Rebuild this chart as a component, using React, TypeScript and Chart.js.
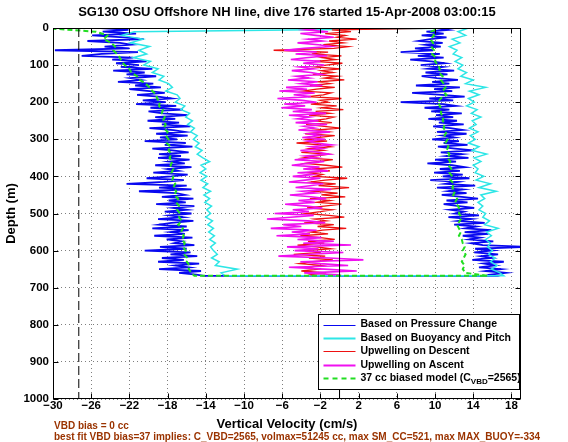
import React, { useEffect, useRef } from "react";
import { Chart, registerables } from "chart.js";

Chart.register(...registerables);

const FONT = '"Liberation Sans", Arial, Helvetica, sans-serif';

const chartTitle = "SG130 OSU Offshore NH line, dive 176 started 15-Apr-2008 03:00:15";
const xAxisTitle = "Vertical Velocity (cm/s)";
const yAxisTitle = "Depth (m)";
const noteLine1 = "VBD bias = 0 cc";
const noteLine2 =
  "best fit VBD bias=37 implies: C_VBD=2565, volmax=51245 cc, max SM_CC=521, max MAX_BUOY=-334";

const xTicks = [-30, -26, -22, -18, -14, -10, -6, -2, 2, 6, 10, 14, 18];
const yTicks = [0, 100, 200, 300, 400, 500, 600, 700, 800, 900, 1000];
const xRange = [-30, 19];
const yRange = [0, 1000];
const biasLineX = -27.3;
const zeroLineX = 0;

// depth grids (m)
const depth5 = [
  0, 5, 10, 15, 20, 25, 30, 35, 40, 45,
  50, 55, 60, 65, 70, 75, 80, 85, 90, 95,
  100, 105, 110, 115, 120, 125, 130, 135, 140, 145,
  150, 155, 160, 165, 170, 175, 180, 185, 190, 195,
  200, 205, 210, 215, 220, 225, 230, 235, 240, 245,
  250, 255, 260, 265, 270, 275, 280, 285, 290, 295,
  300, 305, 310, 315, 320, 325, 330, 335, 340, 345,
  350, 355, 360, 365, 370, 375, 380, 385, 390, 395,
  400, 405, 410, 415, 420, 425, 430, 435, 440, 445,
  450, 455, 460, 465, 470, 475, 480, 485, 490, 495,
  500, 505, 510, 515, 520, 525, 530, 535, 540, 545,
  550, 555, 560, 565, 570, 575, 580, 585, 590, 595,
  600, 605, 610, 615, 620, 625, 630, 635, 640, 645,
  650, 655, 660, 665, 668,
];
const depth10 = [
  0, 10, 20, 30, 40, 50, 60, 70, 80, 90,
  100, 110, 120, 130, 140, 150, 160, 170, 180, 190,
  200, 210, 220, 230, 240, 250, 260, 270, 280, 290,
  300, 310, 320, 330, 340, 350, 360, 370, 380, 390,
  400, 410, 420, 430, 440, 450, 460, 470, 480, 490,
  500, 510, 520, 530, 540, 550, 560, 570, 580, 590,
  600, 610, 620, 630, 640, 650, 660, 668,
];

// Based on Pressure Change (cm/s) on depth5
const pressureDescent = [
  -25.0, -22.1, -24.8, -21.3, -25.9, -22.6, -20.5, -26.4, -23.0, -21.8,
  -24.6, -22.0, -29.8, -21.1, -24.9, -27.0, -21.6, -23.8, -20.2, -23.4,
  -21.0, -22.9, -19.6, -23.7, -20.4, -22.3, -19.2, -21.9, -20.8, -23.2,
  -19.5, -21.4, -18.7, -22.0, -19.9, -18.3, -21.2, -19.0, -17.6, -20.6,
  -18.2, -21.3, -17.1, -19.8, -16.4, -20.0, -18.5, -15.9, -19.3, -17.2,
  -20.1, -16.8, -18.6, -15.6, -19.9, -17.4, -16.2, -19.2, -15.9, -18.8,
  -17.0, -20.4, -16.1, -18.3, -15.4, -19.6, -17.5, -15.8, -18.9, -16.6,
  -19.0, -15.7, -17.8, -16.2, -19.3, -15.5, -18.0, -16.9, -19.5, -15.9,
  -17.6, -20.2, -16.3, -18.4, -22.3, -16.0, -18.9, -15.5, -21.0, -17.1,
  -16.2, -18.6, -15.3, -17.9, -16.1, -19.2, -15.2, -17.4, -16.0, -18.3,
  -15.5, -17.8, -16.4, -19.0, -15.3, -17.6, -18.9, -16.0, -19.6, -15.8,
  -17.7, -16.2, -19.4, -15.4, -18.1, -16.5, -17.3, -15.2, -18.8, -16.0,
  -20.4, -15.6, -17.7, -14.9, -18.6, -16.3, -19.0, -14.7, -17.2, -15.8,
  -18.9, -14.5, -16.8, -15.0, -14.2,
];
const pressureAscent = [
  10.2, 11.4, 9.1, 10.9, 8.6, 11.2, 9.5, 8.3, 10.8, 9.0,
  10.6, 7.9, 9.8, 6.4, 10.5, 8.2, 10.9, 7.4, 9.6, 11.0,
  8.5, 10.8, 9.3, 12.0, 9.0, 11.3, 8.6, 10.2, 12.4, 9.7,
  11.5, 8.0, 12.6, 9.9, 11.8, 7.6, 10.7, 13.1, 9.4, 11.9,
  6.4, 10.9, 12.2, 8.9, 11.5, 9.6, 12.8, 10.1, 11.9, 9.3,
  12.3, 10.4, 13.0, 9.8, 11.6, 12.9, 10.2, 13.3, 10.8, 12.0,
  9.7, 12.5, 10.9, 13.4, 10.3, 12.1, 14.0, 10.6, 12.8, 11.2,
  13.5, 10.0, 12.2, 9.2, 11.8, 13.1, 10.5, 12.6, 9.9, 12.9,
  10.8, 13.6, 9.5, 12.4, 11.1, 14.2, 10.2, 12.9, 11.4, 13.3,
  10.7, 12.8, 14.5, 11.2, 13.4, 10.9, 12.5, 14.1, 11.6, 13.0,
  12.1, 14.6, 11.4, 13.8, 12.4, 15.2, 12.0, 14.3, 13.2, 15.9,
  13.1, 15.6, 12.9, 14.7, 13.6, 16.1, 13.8, 15.0, 19.6, 14.2,
  16.0, 14.1, 16.6, 14.8, 15.9, 13.9, 17.2, 15.1, 16.3, 14.6,
  16.9, 15.3, 17.4, 15.8, 16.2,
];

// Based on Buoyancy and Pitch (cm/s) on depth10
const buoyancyDescent = [
  13.0, -21.5, -22.8, -20.6, -21.9, -19.9, -21.0, -20.2, -21.6, -19.8,
  -20.5, -19.0, -19.6, -18.4, -18.9, -17.9, -17.5, -18.2, -17.0, -16.7,
  -17.2, -16.2, -16.6, -15.7, -16.1, -15.4, -15.9, -15.2, -15.6, -14.9,
  -15.3, -14.7, -15.1, -14.4, -14.9, -14.3, -13.6, -14.5, -14.0, -14.6,
  -13.9, -14.5, -13.8, -14.3, -13.5, -14.2, -13.6, -14.1, -13.4, -13.9,
  -13.5, -14.0, -13.3, -13.8, -13.2, -13.7, -13.1, -13.6, -13.0, -13.5,
  -13.2, -12.8, -13.4, -12.6, -13.0, -10.7, -12.4, -12.0,
];
const buoyancyAscent = [
  13.5, 12.4, 13.2, 11.8, 12.6, 11.5, 12.3, 11.9, 12.8, 12.1,
  12.9, 12.4, 13.3, 12.7, 14.0, 13.2, 15.3, 13.6, 14.6, 13.5,
  14.1, 13.3, 14.4, 13.8, 14.8, 13.9, 14.3, 13.6, 14.5, 13.7,
  14.2, 13.5, 14.6, 13.9, 15.4, 14.1, 14.8, 14.0, 14.5, 14.2,
  15.1, 14.3, 15.8, 14.6, 16.4, 14.8, 15.2, 14.5, 15.0, 14.6,
  15.3, 15.0, 15.7, 15.2, 16.6, 15.4, 15.9, 15.3, 15.8, 15.5,
  16.0, 15.6, 16.3, 15.8, 16.5, 15.9, 16.8, 17.2,
];

// 37 cc biased model (cm/s) on depth10
const modelDescent = [
  -31.0, -25.5, -24.3, -24.7, -23.9, -23.5, -23.7, -23.3, -23.0, -22.8,
  -22.5, -22.0, -21.8, -21.2, -20.9, -20.3, -19.9, -19.6, -19.2, -19.1,
  -18.8, -18.9, -18.5, -18.6, -18.3, -18.5, -18.2, -18.4, -18.0, -18.2,
  -17.9, -18.1, -17.7, -17.9, -17.6, -17.8, -17.5, -17.7, -17.4, -17.6,
  -17.4, -17.5, -17.2, -17.4, -17.1, -17.3, -16.9, -17.1, -16.8, -17.0,
  -16.7, -16.8, -16.5, -16.9, -16.4, -16.6, -16.3, -16.5, -16.2, -16.4,
  -16.1, -16.3, -15.9, -16.0, -15.7, -15.8, -15.5, -15.2,
];
const modelAscent = [
  10.4, 9.6, 9.9, 9.5, 9.8, 9.6, 9.9, 9.7, 10.1, 10.0,
  10.3, 10.5, 10.4, 10.8, 10.6, 10.9, 11.1, 10.8, 11.2, 10.6,
  10.3, 10.5, 10.7, 10.6, 10.9, 10.8, 11.0, 10.9, 11.2, 11.0,
  11.3, 11.1, 11.4, 11.2, 11.5, 11.3, 11.6, 11.4, 11.7, 11.5,
  11.8, 11.6, 12.0, 11.8, 12.1, 11.9, 12.3, 12.1, 12.4, 12.6,
  12.5, 12.8, 12.6, 12.3, 12.5, 12.7, 12.5, 12.8, 12.9, 13.1,
  12.9, 13.2, 13.0, 12.8, 13.1, 12.9, 13.2, 15.5,
];

// Upwelling (cm/s) on depth5
const upwellingDescent = [
  11.0, -0.8, 1.2, -1.5, 0.6, -0.3, 1.8, -1.1, 0.4, -1.7,
  0.9, -0.6, -6.9, -1.2, -2.9, 0.2, -1.8, -0.4, -2.6, 0.3,
  -1.4, -2.5, 0.1, -1.9, -0.7, -2.8, -0.2, -1.6, 0.5, -2.2,
  -1.0, -3.1, -0.5, -2.4, -3.8, -0.9, -1.7, -3.3, 0.2, -2.0,
  -1.2, -3.0, -0.3, -1.9, 0.4, -2.5, -1.0, -3.2, -0.6, -1.4,
  -2.8, -0.8, -3.5, -1.6, 0.1, -2.4, -1.1, -3.6, -0.5, -2.1,
  -3.4, -1.3, -4.5, -2.0, -0.9, -3.1, -1.7, -4.0, -1.2, -2.6,
  -3.8, -0.7, -2.3, -3.6, -1.4, 0.3, -2.9, -1.0, -3.3, -1.8,
  -2.6, 0.8, -1.5, -3.0, -0.4, -2.2, 1.0, -1.3, -2.7, -0.2,
  -1.9, 0.6, -3.1, -1.0, -2.4, 0.2, -1.6, -3.4, -0.8, -2.0,
  -3.5, -1.1, 0.5, -2.6, -1.4, -3.7, -0.6, -2.3, 0.7, -1.8,
  -3.0, -1.2, -4.1, -2.0, -0.5, -3.3, -1.6, -4.4, -2.4, -0.9,
  -3.6, -2.0, -4.8, -1.5, -3.2, -0.7, -2.8, -4.2, -1.9, -3.5,
  -2.2, -4.0, -1.4, -3.0, -2.5,
];
const upwellingAscent = [
  -2.0, -3.6, -1.2, -4.1, -2.5, -0.6, -3.3, -1.8, -4.4, -2.2,
  -0.9, -3.7, -5.8, -2.4, -4.6, -1.3, -3.5, -5.1, -2.0, -3.8,
  -1.6, -4.2, -2.7, -5.0, -3.0, -1.9, -4.5, -3.2, -5.4, -2.3,
  -4.0, -1.8, -5.6, -3.4, -6.3, -2.6, -4.8, -3.0, -6.5, -3.9,
  -2.4, -5.8, -3.6, -6.1, -2.9, -4.9, -1.4, -5.3, -3.1, -4.4,
  -2.2, -4.6, -1.3, -3.7, -2.6, -4.3, -1.0, -3.2, -2.0, -3.9,
  -1.5, -3.4, -2.5, -0.8, -3.0, -1.8, -4.1, -2.2, -1.1, -3.6,
  -2.4, -4.7, -1.6, -3.3, -5.0, -2.1, -3.8, -1.2, -4.4, -2.8,
  -4.9, -2.0, -3.6, -5.3, -1.7, -3.1, -4.6, -0.9, -3.9, -2.5,
  -5.2, -3.0, -1.4, -4.3, -2.6, -5.7, -3.4, -1.8, -4.9, -3.2,
  -6.8, -2.7, -5.1, -7.6, -3.3, -1.5, -5.9, -4.0, -7.2, -2.4,
  -5.0, -3.1, -6.6, -1.9, -4.4, -0.6, -3.8, 1.2, -5.5, -2.2,
  -4.7, 0.4, -3.0, -6.4, -1.1, 2.5, -4.1, -2.0, 0.9, -5.3,
  -1.6, 1.8, -3.7, -0.4, -1.0,
];

const C_BLUE = "#0808f0";
const C_CYAN = "#2de6e6";
const C_RED = "#ee1111";
const C_MAGENTA = "#f010f0";
const C_GREEN = "#22dd22";
const C_NOTE = "#9a3300";

const legendItems = [
  { label: "Based on Pressure Change", color: C_BLUE, dash: [] as number[], width: 1 },
  { label: "Based on Buoyancy and Pitch", color: C_CYAN, dash: [] as number[], width: 2 },
  { label: "Upwelling on Descent", color: C_RED, dash: [] as number[], width: 1 },
  { label: "Upwelling on Ascent", color: C_MAGENTA, dash: [] as number[], width: 2 },
  { label: "37 cc biased model (C|VBD|=2565)", color: C_GREEN, dash: [5, 4], width: 2 },
];

function diveProfile(depths: number[], down: number[], up?: number[]) {
  const pts = depths.map((d, i) => ({ x: down[i], y: d }));
  if (up) {
    for (let i = depths.length - 1; i >= 0; i--) pts.push({ x: up[i], y: depths[i] });
  }
  return pts;
}
function ascentProfile(depths: number[], up: number[]) {
  const pts: { x: number; y: number }[] = [];
  for (let i = depths.length - 1; i >= 0; i--) pts.push({ x: up[i], y: depths[i] });
  return pts;
}

const fmt = (v: number) => (v < 0 ? "\u2212" + Math.abs(v) : String(v));

const decorPlugin = {
  id: "decor",
  afterDraw(chart: any) {
    const { ctx, chartArea: a, scales } = chart;
    ctx.save();
    // frame
    const L = Math.round(a.left) + 0.5;
    const R = Math.round(a.right) - 0.5;
    const T = Math.round(a.top) + 0.5;
    const B = Math.round(a.bottom) - 0.5;
    ctx.strokeStyle = "#000";
    ctx.lineWidth = 1;
    ctx.setLineDash([]);
    ctx.strokeRect(L, T, R - L, B - T);
    const tl = 5;
    ctx.beginPath();
    xTicks.forEach((v) => {
      const px = Math.round(scales.x.getPixelForValue(v)) + 0.5;
      ctx.moveTo(px, B);
      ctx.lineTo(px, B - tl);
      ctx.moveTo(px, T);
      ctx.lineTo(px, T + tl);
    });
    yTicks.forEach((v) => {
      const py = Math.round(scales.y.getPixelForValue(v)) + 0.5;
      ctx.moveTo(L, py);
      ctx.lineTo(L + tl, py);
      ctx.moveTo(R, py);
      ctx.lineTo(R - tl, py);
    });
    ctx.stroke();

    // legend box
    const lx = Math.round(a.right - 203) + 0.5;
    const ly = Math.round(a.bottom - 85) + 0.5;
    const lw = 201;
    const lh = 75;
    ctx.fillStyle = "#fff";
    ctx.fillRect(lx, ly, lw, lh);
    ctx.strokeStyle = "#000";
    ctx.strokeRect(lx, ly, lw, lh);
    const rowH = 13.4;
    ctx.textBaseline = "middle";
    ctx.textAlign = "left";
    legendItems.forEach((it, i) => {
      const y = ly + 10 + i * rowH;
      ctx.strokeStyle = it.color;
      ctx.lineWidth = it.width;
      ctx.setLineDash(it.dash);
      ctx.beginPath();
      ctx.moveTo(lx + 5, Math.round(y) + 0.5);
      ctx.lineTo(lx + 37, Math.round(y) + 0.5);
      ctx.stroke();
      ctx.setLineDash([]);
      ctx.fillStyle = "#000";
      const parts = it.label.split("|");
      let x = lx + 42;
      parts.forEach((p, k) => {
        const sub = k % 2 === 1;
        ctx.font = `bold ${sub ? 8 : 10.5}px ${FONT}`;
        ctx.fillText(p, x, y + (sub ? 3.5 : 0));
        x += ctx.measureText(p).width;
      });
    });

    // notes below axes
    ctx.fillStyle = C_NOTE;
    ctx.font = `bold 10px ${FONT}`;
    ctx.textBaseline = "alphabetic";
    ctx.fillText(noteLine1, a.left + 1, 428.5);
    ctx.fillText(noteLine2, a.left + 1, 439.5);
    ctx.restore();
  },
};

export default function App() {
  const ref = useRef<HTMLCanvasElement | null>(null);
  useEffect(() => {
    document.body.style.margin = "0";
    const canvas = ref.current;
    if (!canvas) return;
    const base = { showLine: true, pointRadius: 0, borderWidth: 1, fill: false, tension: 0 };
    const chart = new Chart(canvas, {
      type: "scatter",
      data: {
        datasets: [
          {
            ...base,
            label: "zero",
            data: [
              { x: zeroLineX, y: yRange[0] },
              { x: zeroLineX, y: yRange[1] },
            ],
            borderColor: "#000",
            order: -2,
          },
          {
            ...base,
            label: "bias",
            data: [
              { x: biasLineX, y: yRange[0] },
              { x: biasLineX, y: yRange[1] },
            ],
            borderColor: "#000",
            borderDash: [9, 4],
            order: -1,
          },
          {
            ...base,
            label: "37 cc biased model",
            data: diveProfile(depth10, modelDescent, modelAscent),
            borderColor: C_GREEN,
            borderWidth: 2,
            borderDash: [5, 3],
            order: 0,
          },
          {
            ...base,
            label: "Upwelling on Ascent",
            data: ascentProfile(depth5, upwellingAscent),
            borderColor: C_MAGENTA,
            borderWidth: 1.6,
            order: 1,
          },
          {
            ...base,
            label: "Upwelling on Descent",
            data: diveProfile(depth5, upwellingDescent),
            borderColor: C_RED,
            borderWidth: 1.3,
            order: 2,
          },
          {
            ...base,
            label: "Based on Buoyancy and Pitch",
            data: diveProfile(depth10, buoyancyDescent, buoyancyAscent),
            borderColor: C_CYAN,
            borderWidth: 1.5,
            order: 3,
          },
          {
            ...base,
            label: "Based on Pressure Change",
            data: diveProfile(depth5, pressureDescent, pressureAscent),
            borderColor: C_BLUE,
            borderWidth: 1.8,
            order: 4,
          },
        ],
      },
      options: {
        animation: false,
        responsive: false,
        events: [],
        layout: { padding: { left: 0, right: 47, top: 0, bottom: 0 } },
        plugins: {
          legend: { display: false },
          tooltip: { enabled: false },
          title: {
            display: true,
            text: chartTitle,
            fullSize: false,
            color: "#000",
            font: { family: FONT, size: 13, weight: "bold", lineHeight: 1.2 },
            padding: { top: 5, bottom: 7.4 },
          },
        },
        scales: {
          x: {
            type: "linear",
            position: "bottom",
            min: xRange[0],
            max: xRange[1],
            afterBuildTicks: (s: any) => {
              s.ticks = xTicks.map((v) => ({ value: v }));
            },
            afterFit: (s: any) => {
              s.height = 43;
            },
            ticks: {
              autoSkip: false,
              maxRotation: 0,
              padding: 1,
              color: "#000",
              font: { family: FONT, size: 11.5, weight: "bold", lineHeight: 1 },
              callback: (v: any) => fmt(Number(v)),
            },
            grid: { color: "rgba(0,0,0,0.5)", lineWidth: 1, drawTicks: false },
            border: { display: false, dash: [1, 3] },
            title: {
              display: true,
              text: xAxisTitle,
              color: "#000",
              font: { family: FONT, size: 13, weight: "bold", lineHeight: 1.2 },
              padding: { top: 0, bottom: 10 },
            },
          },
          y: {
            type: "linear",
            position: "left",
            reverse: true,
            min: yRange[0],
            max: yRange[1],
            afterBuildTicks: (s: any) => {
              s.ticks = yTicks.map((v) => ({ value: v }));
            },
            afterFit: (s: any) => {
              s.width = 53;
            },
            ticks: {
              autoSkip: false,
              padding: 4,
              color: "#000",
              font: { family: FONT, size: 11.5, weight: "bold", lineHeight: 1 },
              callback: (v: any) => fmt(Number(v)),
            },
            grid: { color: "rgba(0,0,0,0.5)", lineWidth: 1, drawTicks: false },
            border: { display: false, dash: [1, 3] },
            title: {
              display: true,
              text: yAxisTitle,
              color: "#000",
              font: { family: FONT, size: 13, weight: "bold", lineHeight: 1.2 },
              padding: { top: 4, bottom: 0 },
            },
          },
        },
      },
      plugins: [decorPlugin],
    } as any);
    return () => chart.destroy();
  }, []);
  return (
    <div style={{ width: 568, height: 442, background: "#fff" }}>
      <canvas ref={ref} width={568} height={442} style={{ display: "block" }} />
    </div>
  );
}
